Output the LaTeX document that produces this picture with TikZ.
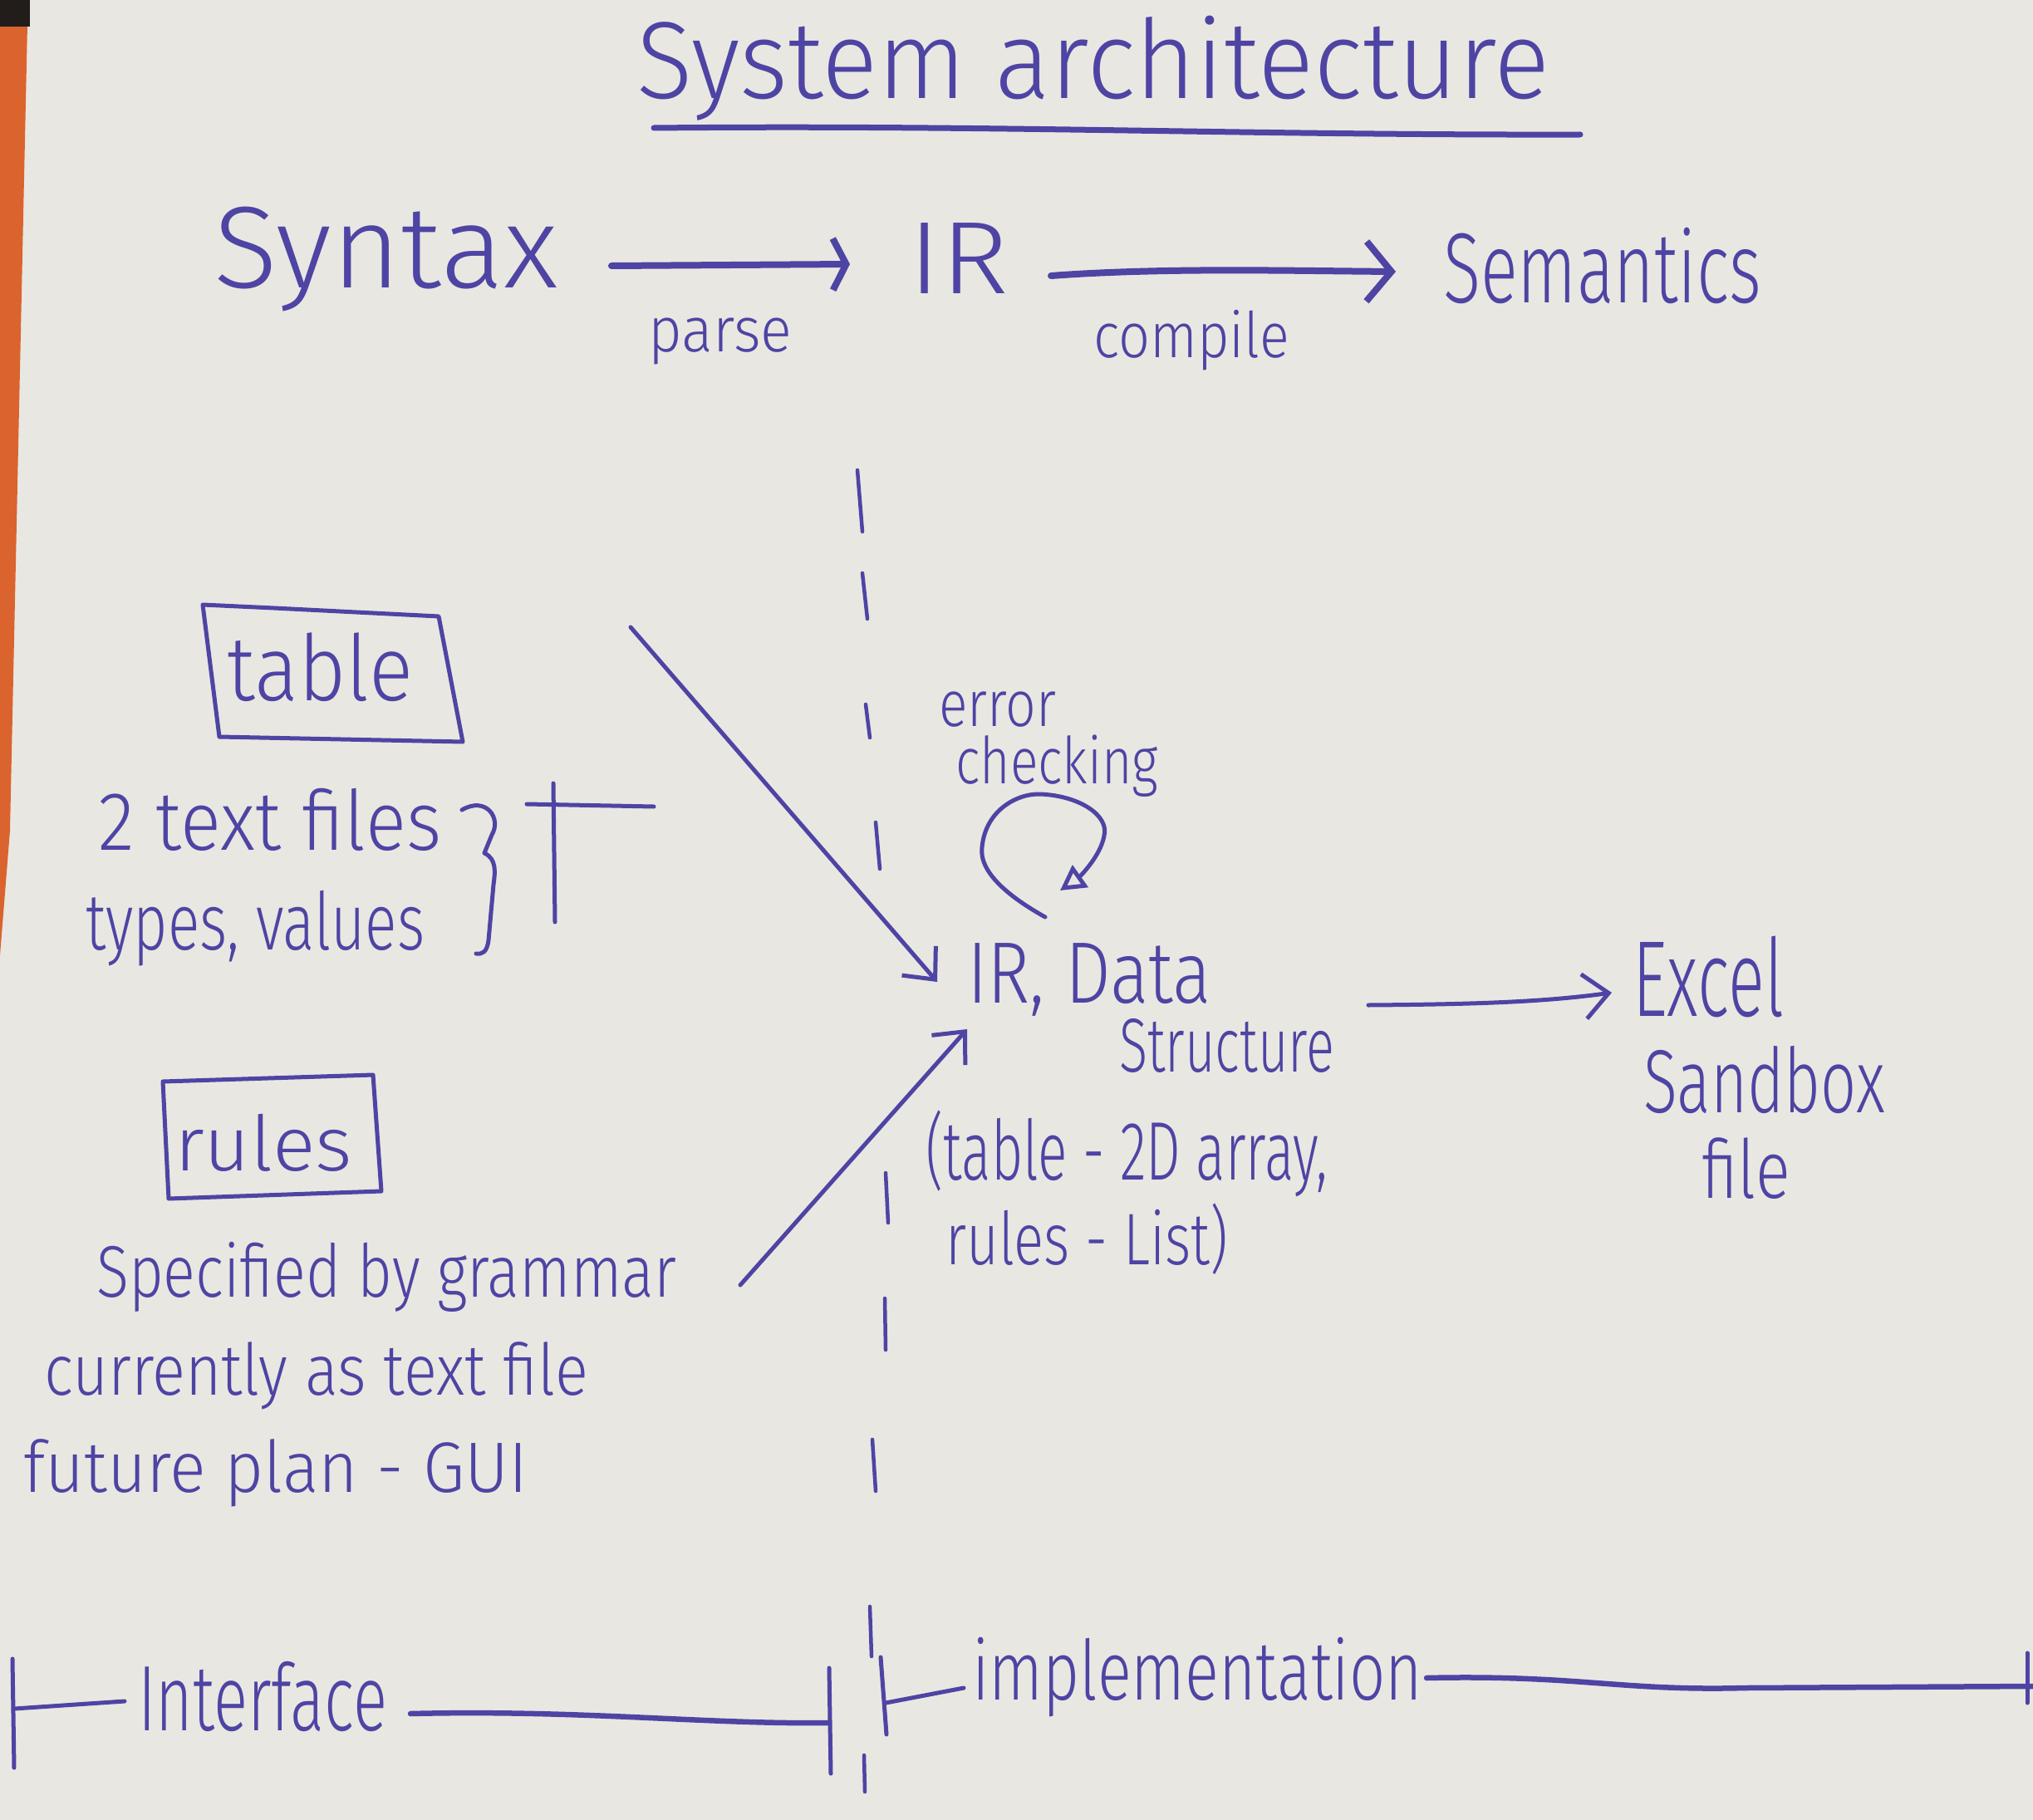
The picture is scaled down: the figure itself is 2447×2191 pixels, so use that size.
\documentclass[tikz,border=0pt]{standalone}
\usepackage{fontspec}
\setmainfont{Fira Sans}[UprightFont=* Light]
\usetikzlibrary{arrows.meta}
\definecolor{ink}{HTML}{4E44A4}
\definecolor{paper}{HTML}{E9E7E1}
\definecolor{deskorange}{HTML}{DA632E}
\definecolor{deskdark}{HTML}{221C1A}
\newcommand\hw[3]{{\fontsize{#2}{#2}\selectfont\resizebox{#1}{\height}{#3}}}
\begin{document}
\begin{tikzpicture}[x=1pt,y=-1pt,
  txt/.style={inner sep=0pt, anchor=base west, text=ink},
  pen/.style={draw=ink, line width=5pt, line cap=round, line join=round},
  thickpen/.style={pen, line width=8pt},
  arr/.style={pen, -{Straight Barb[length=30pt,width=54pt]}},
  loopArr/.style={pen, -{Triangle[open,length=30pt,width=32pt]}}]
% paper and desk
\fill[paper] (0,0) rectangle (2447,2191);
\useasboundingbox (0,0) rectangle (2447,2191);
\fill[deskorange] (0,30) -- (33,30) -- (12,1000) -- (0,1150) -- cycle;
\fill[deskdark] (0,0) rectangle (36,32);

% title
\node[txt] (title) at (766,119) {\hw{1099pt}{132pt}{System architecture}};
\draw[thickpen, line width=7pt] (787,154) .. controls (1200,150) and (1500,163) .. (1902,162);

% top row
\node[txt] (syntax) at (257,347) {\hw{415pt}{140pt}{Syntax}};
\node[txt] (ir) at (1093,354) {\hw{121pt}{124pt}{IR}};
\node[txt] (sem) at (1737,364) {\hw{383pt}{120pt}{Semantics}};
\node[txt] (parse) at (780,423) {\hw{173pt}{76pt}{parse}};
\node[txt] (compile) at (1316,430) {\hw{236pt}{76pt}{compile}};
\coordinate (pa0) at (736,320);
\coordinate (pa1) at (1023,318);
\draw[thickpen, -{Straight Barb[length=16pt,width=62pt]}] (pa0) -- (pa1);
\coordinate (ca0) at (1265,332);
\coordinate (ca1) at (1680,327);
\draw[thickpen, -{Straight Barb[length=30pt,width=72pt]}] (ca0) .. controls (1400,322) and (1550,326) .. (ca1);

% dashed divider
\foreach \a/\b/\c/\d in {1032/566/1038/640, 1038/690/1044/745, 1042/848/1047/888,
  1054/990/1059/1046, 1066/1412/1069/1472, 1065/1563/1066/1625, 1050/1733/1054/1795,
  1047/1934/1049/1994, 1040/2113/1041/2157}
  \draw[pen, line width=4.5pt] (\a,\b) -- (\c,\d);

% table box
\coordinate (tb1) at (244,728);
\coordinate (tb2) at (528,742);
\coordinate (tb3) at (557,893);
\coordinate (tb4) at (264,887);
\draw[pen] (tb1) -- (330,732) -- (tb2) -- (tb3) -- (tb4) -- cycle;
\node[txt] (table) at (273,843) {\hw{224pt}{110pt}{table}};
\node[txt] (tf) at (118,1023) {\hw{413pt}{100pt}{2 text files}};
\node[txt] (tv) at (103,1143) {\hw{408pt}{96pt}{types, values}};
\draw[pen] (556,975) .. controls (585,958) and (604,985) .. (592,1005)
  -- (583,1027) .. controls (598,1034) and (596,1050) .. (594,1065)
  -- (588,1132) .. controls (586,1147) and (580,1149) .. (573,1148);
\draw[pen] (666,943) -- (668,1110);
\draw[pen] (634,968) -- (787,971);

% arrows into data structure
\coordinate (ta0) at (759,755);
\coordinate (ta1) at (1128,1182);
\draw[arr] (ta0) -- (ta1);
\coordinate (ga0) at (891,1547);
\coordinate (ga1) at (1164,1239);
\draw[arr] (ga0) -- (ga1);

% error checking loop
\node[txt] (err) at (1130,874) {\hw{141pt}{78pt}{error}};
\node[txt] (chk) at (1150,943) {\hw{244pt}{78pt}{checking}};
\coordinate (lp0) at (1258,1104);
\coordinate (lp1) at (1276,1072);
\draw[loopArr] (lp0) .. controls (1215,1080) and (1178,1050) .. (1182,1020)
  .. controls (1186,975) and (1225,955) .. (1252,956)
  .. controls (1300,958) and (1335,982) .. (1329,1006)
  .. controls (1325,1030) and (1300,1055) .. (lp1);

% data structure
\node[txt] (ds1) at (1164,1207) {\hw{294pt}{105pt}{IR, Data}};
\node[txt] (ds2) at (1347,1290) {\hw{259pt}{92pt}{Structure}};
\node[txt] (ds3) at (1114,1420) {\hw{484pt}{100pt}{(table - 2D array,}};
\node[txt] (ds4) at (1138,1522) {\hw{340pt}{88pt}{rules - List)}};

% excel
\coordinate (ea0) at (1647,1210);
\coordinate (ea1) at (1940,1195);
\draw[arr] (ea0) .. controls (1780,1209) and (1860,1206) .. (ea1);
\node[txt] (ex1) at (1965,1223) {\hw{182pt}{130pt}{Excel}};
\node[txt] (ex2) at (1978,1339) {\hw{291pt}{108pt}{Sandbox}};
\node[txt] (ex3) at (2048,1442) {\hw{107pt}{98pt}{file}};

% rules box
\coordinate (rb1) at (196,1302);
\coordinate (rb2) at (449,1294);
\coordinate (rb3) at (459,1434);
\coordinate (rb4) at (203,1443);
\draw[pen] (rb1) -- (rb2) -- (rb3) -- (rb4) -- cycle;
\node[txt] (rules) at (210,1409) {\hw{214pt}{92pt}{rules}};
\node[txt] (g1) at (116,1561) {\hw{698pt}{88pt}{Specified by grammar}};
\node[txt] (g2) at (53,1679) {\hw{655pt}{86pt}{currently as text file}};
\node[txt] (g3) at (28,1796) {\hw{607pt}{86pt}{future plan - GUI}};

% bottom brackets
\draw[pen] (15,1997) -- (17,2128);
\draw[pen] (17,2057) -- (150,2048);
\node[txt] (intf) at (166,2083) {\hw{300pt}{112pt}{Interface}};
\coordinate (if0) at (494,2063);
\coordinate (if1) at (996,2074);
\draw[thickpen, line width=6.5pt] (if0) .. controls (700,2058) and (850,2076) .. (if1);
\draw[pen] (998,2008) -- (1000,2135);
\draw[pen] (1060,1995) -- (1067,2088);
\draw[pen] (1066,2050) -- (1160,2032);
\node[txt] (impl) at (1170,2046) {\hw{542pt}{100pt}{implementation}};
\coordinate (im0) at (1717,2020);
\coordinate (im1) at (2447,2030);
\draw[thickpen, line width=6.5pt] (im0) .. controls (1900,2016) and (1950,2036) .. (2100,2032) -- (im1);
\draw[pen] (2440,1990) -- (2440,2050);
\end{tikzpicture}
\end{document}
